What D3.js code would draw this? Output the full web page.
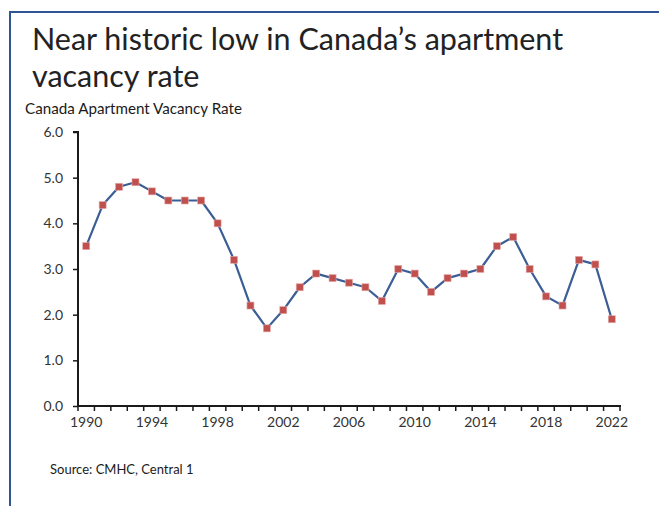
<!DOCTYPE html>
<html>
<head>
<meta charset="utf-8">
<script src="https://cdn.jsdelivr.net/npm/d3@7"></script>
<style>
  html, body { margin: 0; padding: 0; background: #fff; }
  svg { display: block; }
  text { font-family: Lato, "Open Sans", sans-serif; }
</style>
</head>
<body>
<svg id="chart" width="659" height="506"></svg>
<script>
// Canada apartment vacancy rate (%), annual
const years = d3.range(1990, 2023);
const vacancyRate = [
  3.5, 4.4, 4.8, 4.9, 4.7, 4.5, 4.5, 4.5, 4.0, 3.2,
  2.2, 1.7, 2.1, 2.6, 2.9, 2.8, 2.7, 2.6, 2.3, 3.0,
  2.9, 2.5, 2.8, 2.9, 3.0, 3.5, 3.7, 3.0, 2.4, 2.2,
  3.2, 3.1, 1.9
];
const yTicks = [0, 1, 2, 3, 4, 5, 6];
const xLabelYears = [1990, 1994, 1998, 2002, 2006, 2010, 2014, 2018, 2022];

const titleLines = ["Near historic low in Canada\u2019s apartment", "vacancy rate"];
const subtitle = "Canada Apartment Vacancy Rate";
const source = "Source: CMHC, Central 1";

const svg = d3.select("#chart");
const W = 659, H = 506;

// Frame: blue rule along the top and left edge
const frameColor = "#2F5597";
svg.append("line").attr("x1", 9).attr("x2", W).attr("y1", 12).attr("y2", 12)
  .attr("stroke", frameColor).attr("stroke-width", 2);
svg.append("line").attr("x1", 10).attr("x2", 10).attr("y1", 11).attr("y2", H)
  .attr("stroke", frameColor).attr("stroke-width", 2);

// Title
const title = svg.append("text").attr("x", 32).attr("y", 50)
  .attr("font-size", 30.5).attr("fill", "#222");
titleLines.forEach((t, i) => {
  title.append("tspan").attr("x", 32).attr("dy", i === 0 ? 0 : 37).text(t);
});

svg.append("text").attr("x", 25).attr("y", 114)
  .attr("font-size", 15.2).attr("fill", "#1a1a1a").text(subtitle);

svg.append("text").attr("x", 50).attr("y", 474)
  .attr("font-size", 13).attr("fill", "#1a1a1a").text(source);

// Plot area
const plotLeft = 78, plotRight = 620, plotTop = 132, plotBottom = 406;

const x = d3.scaleBand().domain(years).range([plotLeft, plotRight]).paddingInner(0).paddingOuter(0);
const y = d3.scaleLinear().domain([0, 6]).range([plotBottom, plotTop]);

// Y axis
const yAxis = d3.axisLeft(y).tickValues(yTicks).tickSize(5).tickPadding(10)
  .tickFormat(d3.format(".1f"));
const gy = svg.append("g").attr("transform", `translate(${plotLeft},0)`).call(yAxis);
gy.select(".domain").attr("stroke", "#1a1a1a").attr("stroke-width", 2)
  .attr("d", `M-5,${plotTop}H0V${plotBottom}`);
gy.selectAll(".tick line").attr("stroke", "#1a1a1a").attr("stroke-width", 1.5);
gy.selectAll(".tick text").attr("font-size", 14).attr("fill", "#333")
  .attr("font-family", "Lato, 'Open Sans', sans-serif");

// X axis: tick marks on category boundaries, labels under every fourth year
const gx = svg.append("g").attr("transform", `translate(0,${plotBottom})`);
gx.append("line").attr("x1", plotLeft - 1).attr("x2", plotRight + 1)
  .attr("stroke", "#1a1a1a").attr("stroke-width", 2);
const boundaries = years.map(d => x(d)).concat([x(years[years.length - 1]) + x.bandwidth()]);
gx.selectAll("line.tk").data(boundaries).join("line").attr("class", "tk")
  .attr("x1", d => d).attr("x2", d => d).attr("y1", 0).attr("y2", 5)
  .attr("stroke", "#1a1a1a").attr("stroke-width", 1.5);
gx.selectAll("text").data(xLabelYears).join("text")
  .attr("x", d => x(d) + x.bandwidth() / 2).attr("y", 21)
  .attr("text-anchor", "middle").attr("font-size", 14).attr("fill", "#333")
  .text(d => d);

// Series
const data = years.map((yr, i) => ({ year: yr, value: vacancyRate[i] }));
const cx = d => x(d.year) + x.bandwidth() / 2;

svg.append("path").datum(data)
  .attr("fill", "none").attr("stroke", "#3B5E95").attr("stroke-width", 2.2)
  .attr("stroke-linejoin", "round")
  .attr("d", d3.line().x(cx).y(d => y(d.value)));

const ms = 7;
svg.selectAll("rect.pt").data(data).join("rect").attr("class", "pt")
  .attr("x", d => cx(d) - ms / 2).attr("y", d => y(d.value) - ms / 2)
  .attr("width", ms).attr("height", ms)
  .attr("fill", "#C0504D").attr("stroke", "#E6A9A8").attr("stroke-width", 0.6);
</script>
</body>
</html>
